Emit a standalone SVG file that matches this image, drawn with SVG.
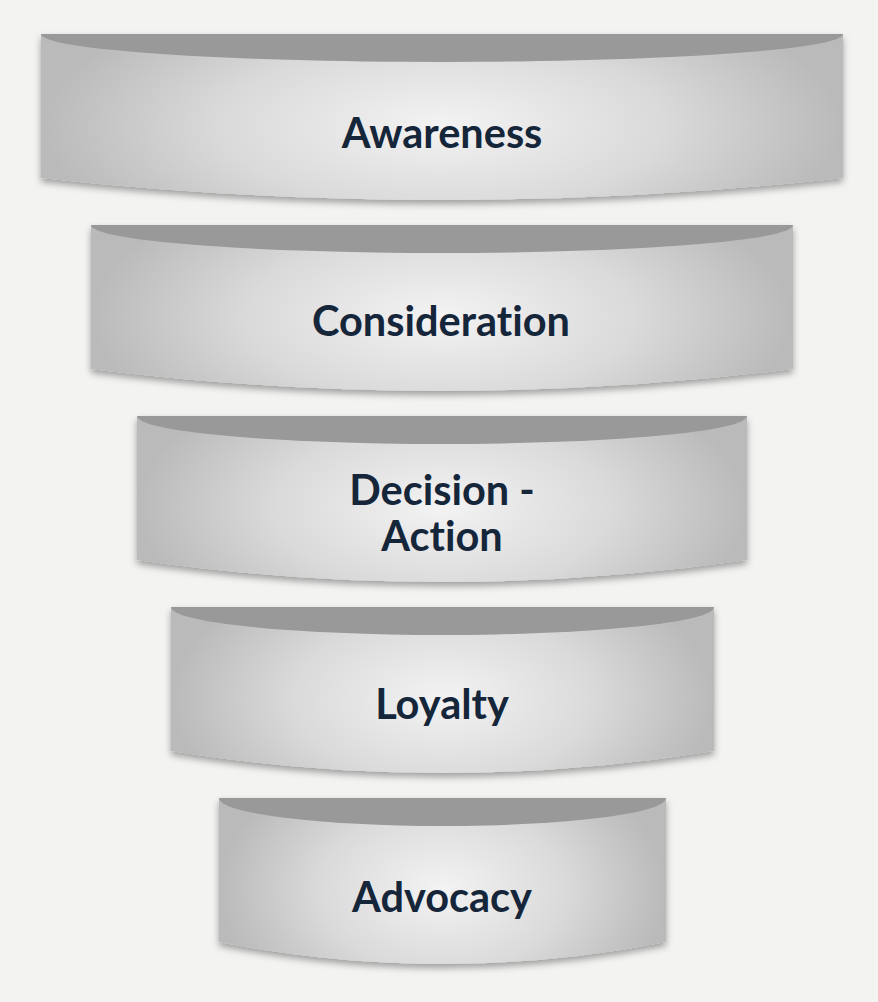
<svg xmlns="http://www.w3.org/2000/svg" width="878" height="1002" viewBox="0 0 878 1002">
<defs>
<radialGradient id="body" cx="0.5" cy="0.55" r="0.5" gradientUnits="objectBoundingBox" gradientTransform="translate(0.5,0.55) scale(1,1.8) translate(-0.5,-0.55)">
<stop offset="0" stop-color="#f3f3f3"/>
<stop offset="0.55" stop-color="#dadada"/>
<stop offset="1" stop-color="#bababa"/>
</radialGradient>
<filter id="sh" x="-5%" y="-10%" width="110%" height="130%">
<feDropShadow dx="0" dy="4" stdDeviation="3.5" flood-color="#000" flood-opacity="0.35"/>
</filter>
</defs>
<style>
.body{fill:url(#body);filter:url(#sh)}
.band{fill:#999999}
.lbl{font-family:Lato,"Liberation Sans",sans-serif;font-weight:700;font-size:41.5px;fill:#15263a;text-anchor:middle;font-variant-ligatures:none;font-feature-settings:"liga" 0}
</style>
<rect width="878" height="1002" fill="#f3f3f2"/>
<g id="awareness">
<path class="body" d="M41,34 L843,34 L843,178 Q442,222 41,178 Z"/>
<path class="band" d="M41,34 L843,34 A401,28 0 0 1 41,34 Z"/>
<text class="lbl" x="442" y="148">Awareness</text>
</g>
<g id="consideration">
<path class="body" d="M91,225 L793,225 L793,369 Q442,413 91,369 Z"/>
<path class="band" d="M91,225 L793,225 A351,28 0 0 1 91,225 Z"/>
<text class="lbl" x="441" y="336">Consideration</text>
</g>
<g id="decision">
<path class="body" d="M137,416 L747,416 L747,560 Q442,604 137,560 Z"/>
<path class="band" d="M137,416 L747,416 A305,28 0 0 1 137,416 Z"/>
<text class="lbl" x="442" y="505">Decision -</text>
<text class="lbl" x="442" y="551">Action</text>
</g>
<g id="loyalty">
<path class="body" d="M171,607 L714,607 L714,751 Q442.5,795 171,751 Z"/>
<path class="band" d="M171,607 L714,607 A271.5,28 0 0 1 171,607 Z"/>
<text class="lbl" x="442" y="719">Loyalty</text>
</g>
<g id="advocacy">
<path class="body" d="M219,798 L666,798 L666,942 Q442.5,986 219,942 Z"/>
<path class="band" d="M219,798 L666,798 A223.5,28 0 0 1 219,798 Z"/>
<text class="lbl" x="442" y="912">Advocacy</text>
</g>
<g id="connectors"/>
</svg>
